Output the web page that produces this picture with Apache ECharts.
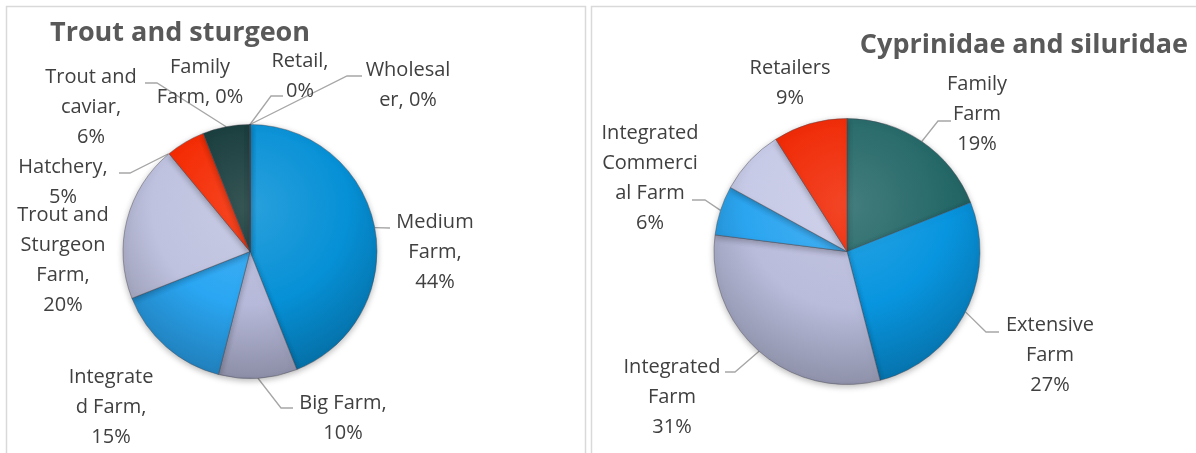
<!DOCTYPE html>
<html><head><meta charset="utf-8">
<script src="https://cdn.jsdelivr.net/npm/echarts@6/dist/echarts.min.js"></script>
<style>html,body{margin:0;padding:0;background:#fff}#c{width:1196px;height:453px}</style>
</head><body><div id="c"></div>
<script>
// ---- data: Trout and sturgeon ----
const troutTitle = 'Trout and sturgeon';
const troutCategories = ['Medium Farm','Big Farm','Integrated Farm','Trout and Sturgeon Farm','Hatchery','Trout and caviar','Family Farm','Retail','Wholesaler'];
const troutValues = [44, 10, 15, 20, 5, 6, 0, 0, 0];
const troutLabelNames = ['Medium\nFarm,','Big Farm,','Integrate\nd Farm,','Trout and\nSturgeon\nFarm,','Hatchery,','Trout and\ncaviar,','Family\nFarm,','Retail,','Wholesal\ner,'];
const troutLabelSep = ['\n','\n','\n','\n','\n','\n',' ','\n',' '];

// ---- data: Cyprinidae and siluridae ----
const carpTitle = 'Cyprinidae and siluridae';
const carpCategories = ['Family Farm','Extensive Farm','Integrated Farm','Integrated Commercial Farm','Other','Retailers'];
const carpValues = [19, 27, 31, 6, 8, 9];
const carpLabelNames = ['Family\nFarm','Extensive\nFarm','Integrated\nFarm','Integrated\nCommerci\nal Farm','','Retailers'];
const carpLabelSep = ['\n','\n','\n','\n','\n','\n'];

// ---- styles ----
const troutColors = ['#0690d6','#b6b9d9','#2aa6f2','#bfc2df','#f42a02','#173b3b','#236262','#888888','#888888'];
const carpColors = ['#256868','#0895df','#b9bcdb','#2ba5f0','#c7cae6','#f02804'];
const pies = [
  {cx: 250, cy: 251.5, r: 127},
  {cx: 847, cy: 251.5, r: 133}
];
// label placement (label centre, leader-line bend points from label towards the pie)
const labelPos = [
  [
    {x: 435, y: 252, line: [[390, 228]]},
    {x: 343, y: 418, line: [[293, 408], [281, 408]]},
    {x: 111, y: 407},
    {x: 63, y: 260},
    {x: 63, y: 182, line: [[119, 173], [130, 173]], tip: [168, 154]},
    {x: 91, y: 107, line: [[145, 83], [157, 83]]},
    {x: 200, y: 82},
    {x: 300, y: 76, line: [[283, 96], [271, 96]]},
    {x: 408, y: 85, line: [[362, 76], [347, 76]]}
  ],
  [
    {x: 977, y: 114, line: [[951, 121], [938, 121]]},
    {x: 1050, y: 355, line: [[999, 332], [986, 332]]},
    {x: 672, y: 397, line: [[725, 372], [735, 372]]},
    {x: 650, y: 178, line: [[692, 200], [705, 200]]},
    null,
    {x: 790, y: 83}
  ]
];

function shade(hex, amt) {
  const n = parseInt(hex.slice(1), 16);
  let r = n >> 16, g = (n >> 8) & 255, b = n & 255;
  const f = c => amt >= 0 ? Math.round(c + (255 - c) * amt) : Math.round(c * (1 + amt));
  return 'rgb(' + f(r) + ',' + f(g) + ',' + f(b) + ')';
}
function fill(base, p) {
  return new echarts.graphic.RadialGradient(p.cx, p.cy - p.r * 0.35, p.r * 1.4, [
    {offset: 0, color: shade(base, 0.14)},
    {offset: 0.55, color: base},
    {offset: 0.95, color: shade(base, -0.22)},
    {offset: 1, color: shade(base, -0.3)}
  ], true);
}

function buildData(cats, vals, names, seps, colors, p, si) {
  return cats.map((c, i) => {
    const pos = labelPos[si][i];
    return {
      name: c,
      value: vals[i],
      itemStyle: {color: fill(colors[i], p)},
      label: {show: !!pos && names[i] !== '', formatter: () => names[i] + seps[i] + Math.round(vals[i]) + '%'},
      labelLine: {show: !!(pos && pos.line)}
    };
  });
}

function makeSeries(data, p) {
  return {
    type: 'pie',
    center: [p.cx, p.cy],
    radius: p.r,
    startAngle: 90,
    clockwise: true,
    avoidLabelOverlap: false,
    silent: true,
    animation: false,
    data: data,
    itemStyle: {
      borderColor: 'rgba(70,70,80,0.55)',
      borderWidth: 0.8,
      shadowBlur: 6,
      shadowColor: 'rgba(0,0,0,0.28)',
      shadowOffsetY: 2
    },
    label: {
      position: 'outside',
      color: '#404040',
      fontFamily: 'Open Sans',
      fontSize: 20,
      lineHeight: 30,
      align: 'center'
    },
    labelLine: {
      lineStyle: {color: '#a6a6a6', width: 1.3}
    },
    labelLayout: function (params) {
      const cfg = labelPos[params.seriesIndex][params.dataIndex];
      if (!cfg) return {};
      const res = {x: cfg.x, y: cfg.y, align: 'center', verticalAlign: 'middle'};
      if (cfg.line) {
        const tip = cfg.tip || (params.labelLinePoints ? params.labelLinePoints[0] : null);
        if (tip) res.labelLinePoints = [tip].concat(cfg.line.slice().reverse());
      }
      return res;
    }
  };
}

const chart = echarts.init(document.getElementById('c'), null, {renderer: 'canvas'});
chart.setOption({
  backgroundColor: '#ffffff',
  animation: false,
  title: [
    {text: troutTitle, left: 50, top: 17, padding: 0,
      textStyle: {fontFamily: 'Open Sans', fontWeight: 'bold', fontSize: 27, color: '#595959', lineHeight: 32}},
    {text: carpTitle, right: 8, top: 29, padding: 0,
      textStyle: {fontFamily: 'Open Sans', fontWeight: 'bold', fontSize: 27, color: '#595959', lineHeight: 32}}
  ],
  graphic: [
    {type: 'rect', z: -10, shape: {x: 6.5, y: 6.5, width: 579, height: 470},
      style: {fill: 'none', stroke: '#d9d9d9', lineWidth: 1.5}},
    {type: 'rect', z: -10, shape: {x: 591.5, y: 6.5, width: 640, height: 470},
      style: {fill: 'none', stroke: '#d9d9d9', lineWidth: 1.5}}
  ],
  series: [
    makeSeries(buildData(troutCategories, troutValues, troutLabelNames, troutLabelSep, troutColors, pies[0], 0), pies[0]),
    makeSeries(buildData(carpCategories, carpValues, carpLabelNames, carpLabelSep, carpColors, pies[1], 1), pies[1])
  ]
});
</script>
</body></html>
